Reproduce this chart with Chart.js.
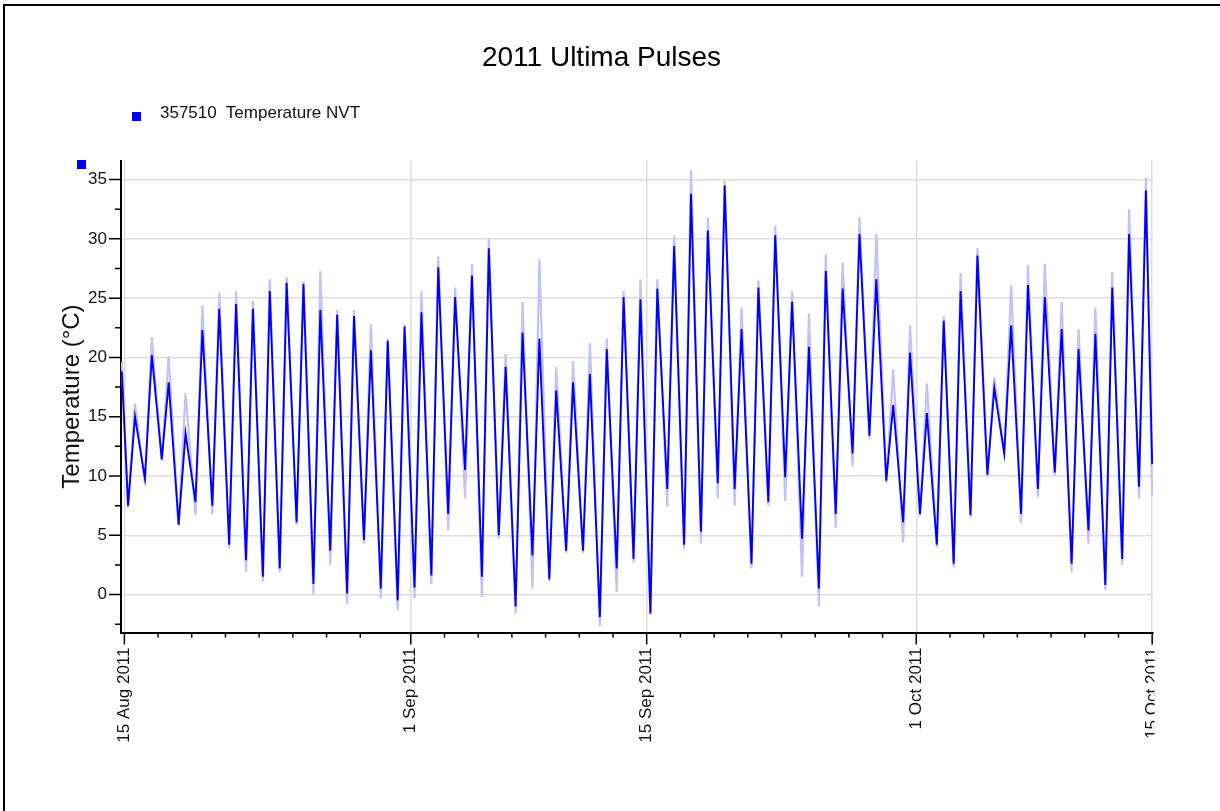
<!DOCTYPE html>
<html>
<head>
<meta charset="utf-8">
<script src="https://cdn.jsdelivr.net/npm/chart.js@4.4.1/dist/chart.umd.min.js"></script>
<style>
  body { margin: 0; background: #fff; }
  #wrap { position: relative; width: 1220px; height: 811px; overflow: hidden; }
  #frame { position: absolute; left: 3px; top: 4px; width: 1300px; height: 900px;
           border-top: 2px solid #000; border-left: 2px solid #000; }
  .sq { position: absolute; width: 9px; height: 9px; background: #0000ff; }
  #legendText { position: absolute; left: 160px; top: 103px; line-height: 20px;
                font: 17px "Liberation Sans", Arial, sans-serif; color: #111; white-space: pre; }
  canvas { position: absolute; left: 0; top: 0; }
</style>
</head>
<body>
<div id="wrap">
  <div id="frame"></div>
  <canvas id="chart" width="1220" height="811"></canvas>
  <div class="sq" style="left:132px;top:112px"></div>
  <div id="legendText">357510  Temperature NVT</div>
  <div class="sq" style="left:77px;top:160px"></div>
</div>
<script>
// days counted from 15 Aug 2011 00:00
const majorDays = [0, 17, 31, 47, 61]
const majorLabels = ['15 Aug 2011', '1 Sep 2011', '15 Sep 2011', '1 Oct 2011', '15 Oct 2011']
const minorDays = [2, 4, 6, 8, 10, 12, 14, 19, 21, 23, 25, 27, 29, 33, 35, 37, 39, 41, 43, 45, 49, 51, 53, 55, 57, 59]
const yMajor = [0, 5, 10, 15, 20, 25, 30, 35]
const yMinor = [-2.5, 2.5, 7.5, 12.5, 17.5, 22.5, 27.5, 32.5]

// daily lows (early morning) and highs (afternoon), °C
const dayLow = [7.5, 9.8, 11.4, 5.9, 7.8, 7.5, 4.2, 2.9, 1.5, 2.2,
  6.1, 0.9, 3.7, 0.1, 4.6, 0.5, -0.5, 0.6, 1.6, 6.8,
  10.5, 1.5, 5.0, -1.0, 3.3, 1.3, 3.7, 3.7, -1.9, 2.2,
  3.0, -1.6, 8.9, 4.2, 5.3, 9.4, 8.9, 2.6, 7.8, 9.9,
  4.7, 0.5, 6.8, 11.9, 13.4, 9.6, 6.1, 6.8, 4.2, 2.6,
  6.7, 10.1, 11.9, 6.8, 8.9, 10.3, 2.6, 5.4, 0.8, 3.0, 9.1]
const dayHigh = [15.0, 20.2, 17.9, 13.6, 22.3, 24.1, 24.5, 24.1, 25.6, 26.3,
  26.2, 24.0, 23.6, 23.5, 20.6, 21.4, 22.6, 23.8, 27.6, 25.1,
  26.9, 29.2, 19.2, 22.1, 21.6, 17.2, 17.9, 18.6, 20.7, 25.1,
  24.9, 25.8, 29.4, 33.8, 30.7, 34.5, 22.4, 25.9, 30.3, 24.7,
  20.9, 27.3, 25.8, 30.4, 26.6, 16.0, 20.4, 15.3, 23.1, 25.6,
  28.6, 17.4, 22.7, 26.1, 25.1, 22.4, 20.7, 22.0, 25.9, 30.4, 34.1]
// pale trace: extremes reached by the raw readings
const rawLow = [7.3, 9.4, 11.3, 5.8, 6.7, 6.8, 3.9, 1.9, 1.1, 1.9,
  5.9, 0.0, 2.5, -0.8, 4.3, -0.3, -1.3, -0.3, 0.9, 5.4,
  8.1, -0.2, 4.7, -1.6, 0.5, 1.1, 3.5, 3.5, -2.7, 0.2,
  2.7, -1.7, 7.4, 3.8, 4.3, 8.1, 7.5, 2.2, 7.5, 7.9,
  1.5, -1.0, 5.6, 10.8, 13.1, 9.4, 4.4, 6.6, 4.0, 2.3,
  6.5, 9.9, 11.9, 6.0, 8.2, 10.0, 1.9, 4.3, 0.4, 2.5, 8.1]
const rawHigh = [16.1, 21.7, 20.1, 17.0, 24.4, 25.5, 25.6, 24.8, 26.6, 26.8,
  26.4, 27.3, 24.0, 24.0, 22.8, 21.6, 22.8, 25.6, 28.5, 25.9,
  27.9, 30.0, 20.3, 24.7, 28.3, 19.2, 19.7, 21.2, 21.6, 25.6,
  26.6, 26.6, 30.3, 35.8, 31.8, 34.9, 24.2, 26.5, 31.1, 25.6,
  23.7, 28.7, 28.0, 31.8, 30.4, 19.0, 22.7, 17.8, 23.5, 27.1,
  29.2, 18.3, 26.1, 27.8, 27.9, 24.7, 22.4, 24.2, 27.2, 32.5, 35.2]
const startTemp = [18.8, 19.6]
const endTemp = [11.0, 8.4]

const lowAt = 0.22
const highAt = 0.63

function buildSeries(lows, highs, first, last) {
  const pts = [{ x: -0.15, y: first }]
  for (let d = 0; d < lows.length; d++) {
    pts.push({ x: d + lowAt, y: lows[d] })
    pts.push({ x: d + highAt, y: highs[d] })
  }
  pts.push({ x: 61, y: last })
  return pts
}

const FONT = '"Liberation Sans", Arial, sans-serif'
Chart.defaults.font.family = FONT

const tickMarks = {
  id: 'tickMarks',
  afterDraw(chart) {
    const { ctx, chartArea, scales } = chart
    ctx.save()
    ctx.strokeStyle = '#000'
    ctx.lineWidth = 1.5
    ctx.beginPath()
    scales.x.ticks.forEach(t => {
      const px = scales.x.getPixelForValue(t.value)
      const len = majorDays.includes(t.value) ? 12 : 5
      ctx.moveTo(px, chartArea.bottom)
      ctx.lineTo(px, chartArea.bottom + len)
    })
    scales.y.ticks.forEach(t => {
      const py = scales.y.getPixelForValue(t.value)
      const len = yMajor.includes(t.value) ? 12 : 6
      ctx.moveTo(chartArea.left, py)
      ctx.lineTo(chartArea.left - len, py)
    })
    ctx.stroke()
    // the last date label is cut off in the original
    ctx.fillStyle = '#fff'
    ctx.fillRect(chartArea.right + 1.5, chartArea.bottom + 14, 60, 130)
    ctx.restore()
  }
}

const chart = new Chart(document.getElementById('chart'), {
  type: 'line',
  data: {
    datasets: [
      {
        label: '357510  Temperature NVT',
        data: buildSeries(dayLow, dayHigh, startTemp[0], endTemp[0]),
        borderColor: '#0000ff',
        borderWidth: 1.9,
        pointRadius: 0,
        tension: 0
      },
      {
        label: 'raw',
        data: buildSeries(rawLow, rawHigh, startTemp[1], endTemp[1]),
        borderColor: '#c2c2f6',
        borderWidth: 2.2,
        pointRadius: 0,
        tension: 0
      }
    ]
  },
  options: {
    responsive: false,
    animation: false,
    layout: { padding: { left: 50, right: 67, top: 30, bottom: 66.5 } },
    plugins: {
      legend: { display: false },
      tooltip: { enabled: false },
      title: {
        display: true,
        text: '2011 Ultima Pulses',
        color: '#000',
        font: { size: 28, weight: 'normal' },
        padding: { top: 11, bottom: 86 }
      }
    },
    scales: {
      x: {
        type: 'linear',
        min: -0.2,
        max: 61.05,
        afterBuildTicks: s => { s.ticks = majorDays.concat(minorDays).sort((a, b) => a - b).map(v => ({ value: v })) },
        afterFit: s => { s.height = 112 },
        ticks: {
          autoSkip: false,
          minRotation: 90,
          maxRotation: 90,
          padding: 3,
          color: '#111',
          font: { size: 17 },
          callback: v => { const i = majorDays.indexOf(v); return i >= 0 ? majorLabels[i] : '' }
        },
        grid: {
          color: c => (c.tick && majorDays.includes(c.tick.value)) ? '#dedede' : 'rgba(0,0,0,0)',
          lineWidth: 1.5,
          tickLength: 12,
          tickColor: 'rgba(0,0,0,0)'
        },
        border: { color: '#000', width: 2 }
      },
      y: {
        min: -3.2,
        max: 36.6,
        afterBuildTicks: s => { s.ticks = yMinor.concat(yMajor).sort((a, b) => a - b).map(v => ({ value: v })) },
        afterFit: s => { s.width = 71 },
        title: {
          display: true,
          text: 'Temperature (°C)',
          color: '#111',
          font: { size: 24 },
          padding: { top: 8, bottom: 0 }
        },
        ticks: {
          padding: 2,
          color: '#111',
          font: { size: 17 },
          callback: v => yMajor.includes(v) ? String(v) : ''
        },
        grid: {
          color: c => (c.tick && yMajor.includes(c.tick.value)) ? '#dedede' : 'rgba(0,0,0,0)',
          lineWidth: 1.5,
          tickLength: 12,
          tickColor: 'rgba(0,0,0,0)'
        },
        border: { color: '#000', width: 2 }
      }
    }
  },
  plugins: [tickMarks]
})
</script>
</body>
</html>
